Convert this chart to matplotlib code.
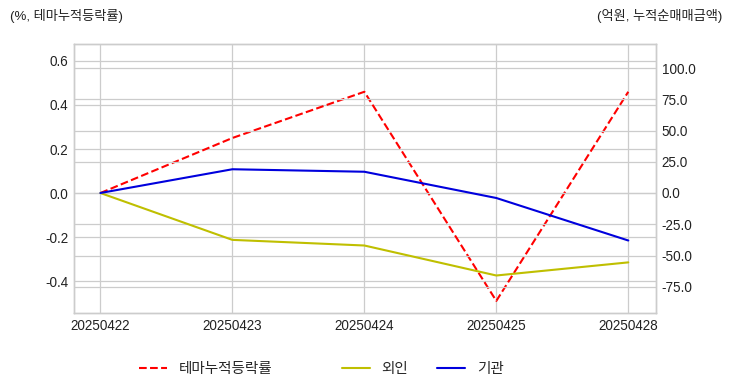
import matplotlib
matplotlib.use("Agg")
import matplotlib.pyplot as plt

plt.style.use("seaborn-v0_8-whitegrid")
plt.rcParams['font.family'] = ['Liberation Sans', 'Noto Sans CJK KR', 'DejaVu Sans']
plt.rcParams['axes.unicode_minus'] = False

dates = ["20250422", "20250423", "20250424", "20250425", "20250428"]
theme_ret = [0.0, 0.25, 0.46, -0.49, 0.46]
foreign = [0.0, -37.5, -42.0, -66.0, -55.5]
institution = [0.0, 19.0, 17.0, -4.0, -38.0]

fig = plt.figure(figsize=(7.32, 3.92), dpi=100)
ax1 = fig.add_axes([74/732, 1-313/392, (656-74)/732, (313-44)/392])
ax2 = ax1.twinx()

x = list(range(len(dates)))
l1, = ax1.plot(x, theme_ret, color="red", linestyle="--", linewidth=1.5, label="테마누적등락률")
l2, = ax2.plot(x, foreign, color="#bfbf00", linewidth=1.5, label="외인")
l3, = ax2.plot(x, institution, color="#0000dd", linewidth=1.5, label="기관")

ax1.set_xlim(-0.2, 4.21)
ax1.set_ylim(-0.545, 0.677)
ax2.set_ylim(-96, 119.2)
ax1.set_yticks([-0.4, -0.2, 0.0, 0.2, 0.4, 0.6])
ax1.set_yticklabels([f"{v:.1f}" for v in [-0.4, -0.2, 0.0, 0.2, 0.4, 0.6]])
ax2.set_yticks([-75, -50, -25, 0, 25, 50, 75, 100])
ax2.set_yticklabels([f"{v:.1f}" for v in [-75, -50, -25, 0, 25, 50, 75, 100]])
ax1.set_xticks(x)
ax1.set_xticklabels(dates)

for ax in (ax1, ax2):
    ax.tick_params(labelsize=9.75, colors="#222222", length=0, pad=4)
    ax.grid(True, color="#cccccc", linewidth=0.9)
    for s in ax.spines.values():
        s.set_visible(True)
        s.set_color("#cccccc")
        s.set_linewidth(1.0)
ax2.grid(True, axis="y", color="#cccccc", linewidth=0.9)
ax2.grid(False, axis="x")

fig.text(10/732, 1-16/392, "(%, 테마누적등락률)", fontsize=9.5, ha="left", va="center", color="#222222")
fig.text(722/732, 1-16/392, "(억원, 누적순매매금액)", fontsize=9.5, ha="right", va="center", color="#222222")

leg1 = fig.legend(handles=[l1], loc="center left", bbox_to_anchor=(126/732, 1-369/392), frameon=False, fontsize=10.5, handlelength=1.9)
fig.legend(handles=[l2, l3], loc="center left", bbox_to_anchor=(329/732, 1-369/392), frameon=False, fontsize=10.5, ncol=2, handlelength=1.9, columnspacing=2.0)

fig.savefig("out.png", dpi=100)
